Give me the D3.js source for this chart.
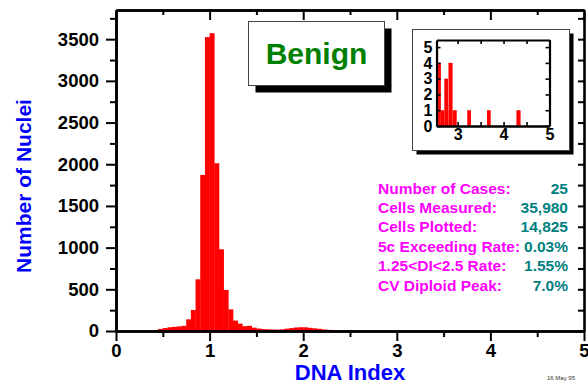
<!DOCTYPE html>
<html>
<head>
<meta charset="utf-8">
<script src="https://cdn.jsdelivr.net/npm/d3@7"></script>
<style>
  body { margin: 0; background: #fff; }
  svg { display: block; font-family: "Liberation Sans", Arial, sans-serif; }
  .axis text { font-weight: bold; fill: #000; }
</style>
</head>
<body>
<div class="chart"></div>
<script>
// main histogram: bin starts (DNA index) and counts, bin width 0.05
const binStarts = [0.40, 0.45, 0.50, 0.55, 0.60, 0.65, 0.70, 0.75, 0.80, 0.85,
  0.90, 0.95, 1.00, 1.05, 1.10, 1.15, 1.20, 1.25, 1.30, 1.35,
  1.40, 1.45, 1.50, 1.55, 1.60, 1.65, 1.70, 1.75, 1.80, 1.85,
  1.90, 1.95, 2.00, 2.05, 2.10, 2.15, 2.20, 2.25, 2.30, 2.35, 2.40, 2.45]
const binCounts = [10, 25, 35, 45, 50, 55, 62, 140, 252, 620,
  1872, 3525, 3572, 2012, 980, 492, 260, 125, 88, 58,
  62, 40, 30, 22, 20, 18, 16, 20, 28, 35,
  42, 45, 44, 38, 32, 26, 18, 14, 10, 8, 6, 4]
const binWidth = 0.05

// inset (DNA index > 2.5)
const insetFrom = [2.54, 2.575, 2.635, 2.71, 2.79, 2.80, 2.89, 3.21, 3.64, 4.28]
const insetTo = [2.575, 2.635, 2.71, 2.79, 2.80, 2.89, 2.98, 3.29, 3.72, 4.37]
const insetCounts = [5, 4, 1, 3, 1, 4, 1, 1, 1, 1]

const statLabels = ['Number of Cases:', 'Cells Measured:', 'Cells Plotted:',
  '5c Exceeding Rate:', '1.25<DI<2.5 Rate:', 'CV Diploid Peak:']
const statValues = ['25', '35,980', '14,825', '0.03%', '1.55%', '7.0%']

const xTicks = [0, 1, 2, 3, 4, 5]
const xMinor = [0.5, 1.5, 2.5, 3.5, 4.5]
const yTicks = [0, 500, 1000, 1500, 2000, 2500, 3000, 3500]
const yMinor = [250, 750, 1250, 1750, 2250, 2750, 3250, 3750]

const width = 588
const height = 385

let svg = d3.select('.chart')
  .append('svg')
  .attr('width', width)
  .attr('height', height)

let x = d3.scaleLinear().domain([0, 5]).range([116, 584])
let y = d3.scaleLinear().domain([0, 3850]).range([331, 10])
let fmt = d3.format('d')

// bars
svg.append('g')
  .selectAll('rect')
  .data(binStarts)
  .enter().append('rect')
  .attr('x', (d) => x(d))
  .attr('width', (d) => x(d + binWidth) - x(d) + 0.3)
  .attr('y', (d, i) => y(binCounts[i]))
  .attr('height', (d, i) => y(0) - y(binCounts[i]))
  .attr('fill', '#ff0000')

function styleAxis(g, labels, fontSize) {
  g.select('.domain').attr('stroke-width', 2.6)
  g.selectAll('.tick line').attr('stroke-width', 2)
  if (!labels) g.selectAll('.tick text').remove()
  else g.selectAll('.tick text').style('font-size', fontSize + 'px')
}

// left
svg.append('g').attr('class', 'axis').attr('transform', 'translate(116,0)')
  .call(d3.axisLeft(y).tickValues(yMinor).tickSize(6).tickSizeOuter(0))
  .call((g) => styleAxis(g, false))
svg.append('g').attr('class', 'axis').attr('transform', 'translate(116,0)')
  .call(d3.axisLeft(y).tickValues(yTicks).tickSize(10).tickPadding(7).tickFormat(fmt).tickSizeOuter(0))
  .call((g) => styleAxis(g, true, 18.5))
// right
svg.append('g').attr('class', 'axis').attr('transform', 'translate(584,0)')
  .call(d3.axisRight(y).tickValues(yTicks.concat(yMinor)).tickSize(-6).tickSizeOuter(0))
  .call((g) => styleAxis(g, false))
// bottom
svg.append('g').attr('class', 'axis').attr('transform', 'translate(0,331)')
  .call(d3.axisBottom(x).tickValues(xMinor).tickSize(6).tickSizeOuter(0))
  .call((g) => styleAxis(g, false))
svg.append('g').attr('class', 'axis').attr('transform', 'translate(0,331)')
  .call(d3.axisBottom(x).tickValues(xTicks).tickSize(10).tickPadding(3).tickFormat(fmt).tickSizeOuter(0))
  .call((g) => styleAxis(g, true, 18.5))
// top
svg.append('g').attr('class', 'axis').attr('transform', 'translate(0,10)')
  .call(d3.axisTop(x).tickValues(xMinor).tickSize(-5).tickSizeOuter(0))
  .call((g) => styleAxis(g, false))
svg.append('g').attr('class', 'axis').attr('transform', 'translate(0,10)')
  .call(d3.axisTop(x).tickValues(xTicks).tickSize(-10).tickSizeOuter(0))
  .call((g) => styleAxis(g, false))

// axis titles
svg.append('text')
  .attr('transform', 'translate(31,186) rotate(-90)')
  .attr('text-anchor', 'middle')
  .style('font-size', '21px')
  .style('font-weight', 'bold')
  .attr('fill', '#0000ff')
  .text('Number of Nuclei')

svg.append('text')
  .attr('x', 350)
  .attr('y', 380)
  .attr('text-anchor', 'middle')
  .style('font-size', '22px')
  .style('font-weight', 'bold')
  .attr('fill', '#0000ff')
  .text('DNA Index')

svg.append('text')
  .attr('x', 561)
  .attr('y', 380)
  .attr('text-anchor', 'middle')
  .style('font-size', '6px')
  .attr('fill', '#333')
  .text('16 May 95')

// Benign label box
svg.append('rect').attr('x', 255.5).attr('y', 28.5).attr('width', 136).attr('height', 64).attr('fill', '#000')
svg.append('rect').attr('x', 248.5).attr('y', 21.5).attr('width', 136).attr('height', 64)
  .attr('fill', '#fff').attr('stroke', '#444').attr('stroke-width', 1)
svg.append('text')
  .attr('x', 316.5)
  .attr('y', 64)
  .attr('text-anchor', 'middle')
  .style('font-size', '30px')
  .style('font-weight', 'bold')
  .attr('fill', '#008000')
  .text('Benign')

// stats
let stats = svg.append('g').style('font-size', '15.5px').style('font-weight', 'bold')
stats.selectAll('.lab')
  .data(statLabels)
  .enter().append('text')
  .attr('class', 'lab')
  .attr('x', 378)
  .attr('y', (d, i) => 193.5 + i * 19.4)
  .attr('fill', '#ff00ff')
  .text((d) => d)
stats.selectAll('.val')
  .data(statValues)
  .enter().append('text')
  .attr('class', 'val')
  .attr('x', 568)
  .attr('y', (d, i) => 193.5 + i * 19.4)
  .attr('text-anchor', 'end')
  .attr('fill', '#008080')
  .text((d) => d)

// inset
svg.append('rect').attr('x', 416.5).attr('y', 33.5).attr('width', 157).attr('height', 121).attr('fill', '#000')
svg.append('rect').attr('x', 412.5).attr('y', 29.5).attr('width', 157).attr('height', 121)
  .attr('fill', '#fff').attr('stroke', '#444').attr('stroke-width', 1)

let ix = d3.scaleLinear().domain([2.54, 5]).range([436.5, 549.5])
let iy = d3.scaleLinear().domain([0, 5.45]).range([126, 40])

svg.append('g')
  .selectAll('rect')
  .data(insetCounts)
  .enter().append('rect')
  .attr('x', (d, i) => ix(insetFrom[i]))
  .attr('width', (d, i) => ix(insetTo[i]) - ix(insetFrom[i]))
  .attr('y', (d) => iy(d))
  .attr('height', (d) => iy(0) - iy(d))
  .attr('fill', '#ff0000')

let ixTicks = [3, 4, 5]
let ixAll = [3, 3.5, 4, 4.5, 5]
let iyTicks = [0, 1, 2, 3, 4, 5]

function styleInset(g, labels) {
  g.select('.domain').attr('stroke-width', 2.2)
  g.selectAll('.tick line').attr('stroke-width', 1.6)
  if (!labels) g.selectAll('.tick text').remove()
  else g.selectAll('.tick text').style('font-size', '16px')
}

svg.append('g').attr('class', 'axis').attr('transform', 'translate(0,126)')
  .call(d3.axisBottom(ix).tickValues(ixAll).tickSize(-4).tickSizeOuter(0))
  .call((g) => styleInset(g, false))
svg.append('g').attr('class', 'axis').attr('transform', 'translate(0,126)')
  .call(d3.axisBottom(ix).tickValues(ixTicks).tickSize(0).tickPadding(3).tickFormat(fmt).tickSizeOuter(0))
  .call((g) => styleInset(g, true))
svg.append('g').attr('class', 'axis').attr('transform', 'translate(0,40)')
  .call(d3.axisTop(ix).tickValues(ixAll).tickSize(-4).tickSizeOuter(0))
  .call((g) => styleInset(g, false))
svg.append('g').attr('class', 'axis').attr('transform', 'translate(436.5,0)')
  .call(d3.axisLeft(iy).tickValues(iyTicks).tickSize(-4).tickPadding(4).tickFormat(fmt).tickSizeOuter(0))
  .call((g) => styleInset(g, true))
svg.append('g').attr('class', 'axis').attr('transform', 'translate(549.5,0)')
  .call(d3.axisRight(iy).tickValues(iyTicks).tickSize(-4).tickSizeOuter(0))
  .call((g) => styleInset(g, false))
</script>
</body>
</html>
